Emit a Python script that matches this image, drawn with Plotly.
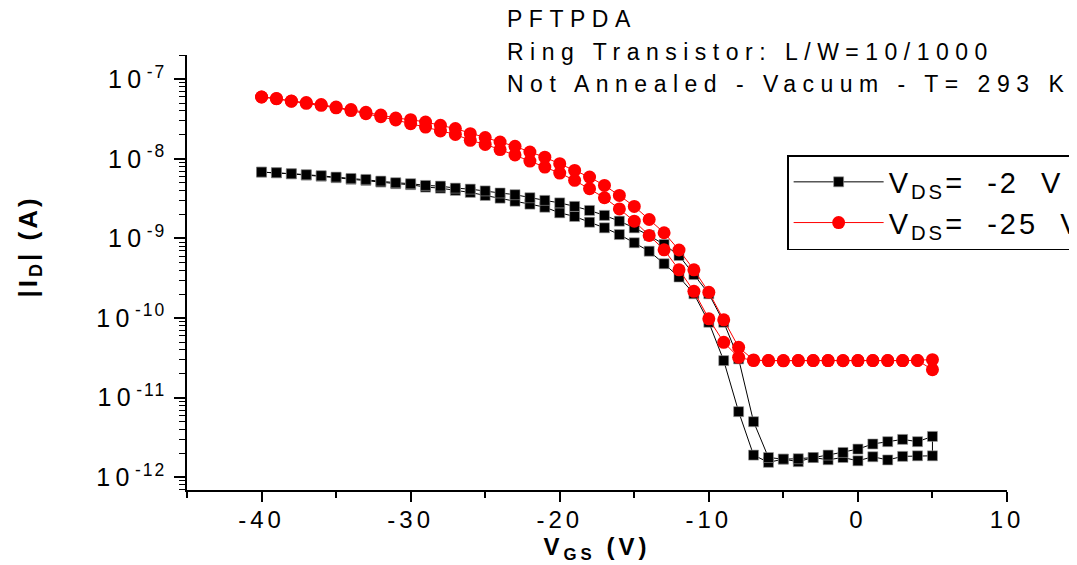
import plotly.graph_objects as go

# Gate voltage sweep (V): forward -40 -> 5, then reverse 5 -> -40
vgs_fwd = [-40, -39, -38, -37, -36, -35, -34, -33, -32, -31, -30, -29, -28, -27, -26, -25,
           -24, -23, -22, -21, -20, -19, -18, -17, -16, -15, -14, -13, -12, -11, -10, -9,
           -8, -7, -6, -5, -4, -3, -2, -1, 0, 1, 2, 3, 4, 5]
vgs_rev = [5, 4, 3, 2, 1, 0, -1, -2, -3, -4, -5, -6, -7, -8, -9, -10, -11, -12, -13, -14,
           -15, -16, -17, -18, -19, -20, -21, -22, -23, -24, -25, -26, -27, -28, -29, -30,
           -31, -32, -33, -34, -35, -36, -37, -38, -39, -40]

# |I_D| (A), V_DS = -2 V
id2_fwd = [6.82e-9, 6.68e-9, 6.48e-9, 6.25e-9, 6.06e-9, 5.80e-9, 5.55e-9, 5.37e-9, 5.11e-9,
           4.88e-9, 4.74e-9, 4.42e-9, 4.29e-9, 4.02e-9, 3.79e-9, 3.47e-9, 3.21e-9, 2.94e-9,
           2.70e-9, 2.47e-9, 2.10e-9, 1.89e-9, 1.60e-9, 1.36e-9, 1.12e-9, 8.83e-10, 6.92e-10,
           4.81e-10, 3.28e-10, 2.02e-10, 8.86e-11, 2.92e-11, 6.67e-12, 1.90e-12, 1.54e-12,
           1.69e-12, 1.57e-12, 1.77e-12, 1.66e-12, 1.77e-12, 1.61e-12, 1.81e-12, 1.65e-12,
           1.83e-12, 1.86e-12, 1.86e-12]
id2_rev = [3.26e-12, 2.80e-12, 2.99e-12, 2.80e-12, 2.62e-12, 2.26e-12, 2.05e-12, 1.90e-12,
           1.77e-12, 1.71e-12, 1.69e-12, 1.77e-12, 4.99e-12, 3.07e-11, 8.86e-11, 2.02e-10,
           3.52e-10, 6.11e-10, 8.40e-10, 1.09e-9, 1.36e-9, 1.65e-9, 1.95e-9, 2.25e-9, 2.53e-9,
           2.80e-9, 3.01e-9, 3.25e-9, 3.55e-9, 3.73e-9, 3.96e-9, 4.17e-9, 4.29e-9, 4.55e-9,
           4.64e-9, 4.88e-9, 5.02e-9, 5.26e-9, 5.52e-9, 5.68e-9, 5.90e-9, 6.15e-9, 6.33e-9,
           6.51e-9, 6.71e-9, 6.82e-9]

# |I_D| (A), V_DS = -25 V
id25_fwd = [5.99e-8, 5.70e-8, 5.30e-8, 4.99e-8, 4.71e-8, 4.38e-8, 4.04e-8, 3.70e-8, 3.39e-8,
            3.08e-8, 2.77e-8, 2.51e-8, 2.24e-8, 2.03e-8, 1.71e-8, 1.52e-8, 1.31e-8, 1.12e-8,
            9.38e-9, 7.88e-9, 6.63e-9, 5.37e-9, 4.22e-9, 3.25e-9, 2.35e-9, 1.65e-9, 1.09e-9,
            7.21e-10, 4.04e-10, 2.17e-10, 9.77e-11, 4.96e-11, 3.21e-11, 2.92e-11, 2.92e-11,
            2.90e-11, 2.92e-11, 2.93e-11, 2.92e-11, 2.91e-11, 2.92e-11, 2.93e-11, 2.92e-11,
            2.92e-11, 2.93e-11, 2.25e-11]
id25_rev = [3.00e-11, 2.93e-11, 2.92e-11, 2.93e-11, 2.92e-11, 2.92e-11, 2.93e-11, 2.92e-11,
            2.92e-11, 2.93e-11, 2.92e-11, 2.92e-11, 2.98e-11, 4.29e-11, 9.50e-11, 2.11e-10,
            4.04e-10, 7.16e-10, 1.18e-9, 1.73e-9, 2.53e-9, 3.47e-9, 4.64e-9, 5.90e-9, 7.16e-9,
            8.70e-9, 1.05e-8, 1.22e-8, 1.44e-8, 1.63e-8, 1.85e-8, 2.07e-8, 2.40e-8, 2.64e-8,
            2.90e-8, 3.11e-8, 3.26e-8, 3.55e-8, 3.85e-8, 4.16e-8, 4.48e-8, 4.81e-8, 5.09e-8,
            5.33e-8, 5.72e-8, 5.99e-8]

series_names = ["V<sub>DS</sub>=  -2  V", "V<sub>DS</sub>=  -25  V"]
x_ticks = [-40, -30, -20, -10, 0, 10]
x_ticktext = ["-40", "-30", "-20", "-10", "0", "10"]
y_ticks = [1e-12, 1e-11, 1e-10, 1e-9, 1e-8, 1e-7]
y_exponents = ["-12", "-11", "-10", "-9", "-8", "-7"]
header_lines = ["PFTPDA", "Ring Transistor: L/W=10/1000", "Not Annealed - Vacuum - T= 293 K"]
x_title = "V<sub>GS</sub> (V)"
y_title = "|I<sub>D</sub>| (A)"

FONT = "Arial, Liberation Sans, sans-serif"
W, H = 1077, 565
OFF = 8  # page body margin: the figure is drawn 8 px in from the window corner
# target positions of the plot frame, in window pixels
L_SCR, R_SCR, T_SCR, B_SCR = 186.5, 1007.0, 55.0, 490.0
L_PX, R_PX, T_PX, B_PX = L_SCR - OFF, R_SCR - OFF, T_SCR - OFF, B_SCR - OFF


def sp(txt, ls, size):
    return '<span style="letter-spacing:%spx;font-size:%spx">%s</span>' % (ls, size, txt)


def px2paper_x(px):
    return (px - OFF - L_PX) / (R_PX - L_PX)


def px2paper_y(py):
    return (B_PX - (py - OFF)) / (B_PX - T_PX)


fig = go.Figure()
fig.add_trace(go.Scatter(
    x=vgs_fwd + vgs_rev, y=id2_fwd + id2_rev, mode="lines+markers",
    name=sp(series_names[0], 3, 29),
    line=dict(color="black", width=1),
    marker=dict(symbol="square", size=10, color="black",
                line=dict(color="#9a9a9a", width=0.6)),
))
fig.add_trace(go.Scatter(
    x=vgs_fwd + vgs_rev, y=id25_fwd + id25_rev, mode="lines+markers",
    name=sp(series_names[1], 3, 29),
    line=dict(color="red", width=1),
    marker=dict(symbol="circle", size=13, color="red"),
))

annotations = []
for i, line in enumerate(header_lines):
    annotations.append(dict(
        text=sp(line, 6.5, 23), xref="paper", yref="paper",
        x=px2paper_x(505), y=px2paper_y(19 + 32.5 * i),
        xanchor="left", yanchor="middle", showarrow=False,
        font=dict(family=FONT, size=23, color="black"),
    ))
# y axis title (placed as rotated text left of the tick labels)
annotations.append(dict(
    text="<b>" + sp(y_title, 3, 26) + "</b>", xref="paper", yref="paper",
    x=px2paper_x(28), y=px2paper_y(247), xanchor="center", yanchor="middle",
    textangle=-90, showarrow=False,
    font=dict(family=FONT, size=26, color="black"),
))

fig.update_layout(
    width=W, height=H,
    margin=dict(l=L_PX, r=W - R_PX, t=T_PX, b=H - B_PX, pad=0, autoexpand=False),
    paper_bgcolor="white", plot_bgcolor="white",
    font=dict(family=FONT, color="black"),
    showlegend=True,
    legend=dict(
        x=px2paper_x(787), y=px2paper_y(155), xanchor="left", yanchor="top",
        bordercolor="black", borderwidth=1.5, bgcolor="white",
        font=dict(family=FONT, size=29, color="black"),
        itemwidth=90,
    ),
    annotations=annotations,
)

fig.update_xaxes(
    range=[-45, 10], showgrid=False, zeroline=False, automargin=False,
    showline=True, linecolor="black", linewidth=1.5,
    ticks="outside", ticklen=10, tickwidth=1.5, tickcolor="black",
    tickvals=x_ticks, ticktext=[sp(t, 4, 24) for t in x_ticktext],
    tickfont=dict(family=FONT, size=24, color="black"),
    ticklabelstandoff=-3,
    minor=dict(ticks="outside", ticklen=6, tickwidth=1.5, tickcolor="black", dtick=5),
    title=dict(text="<b>" + sp(x_title, 4, 24) + "</b>",
               font=dict(family=FONT, size=24, color="black"), standoff=0),
)
fig.update_yaxes(
    type="log", range=[-12.16, -6.695], showgrid=False, zeroline=False, automargin=False,
    showline=True, linecolor="black", linewidth=1.5,
    ticks="outside", ticklen=11, tickwidth=1.5, tickcolor="black",
    tickvals=y_ticks,
    ticktext=[sp("10", 5.5, 25) + "<sup>" + sp(e, 2, 17.5) + "</sup>" for e in y_exponents],
    tickfont=dict(family=FONT, size=25, color="black"),
    ticklabelstandoff=3,
    minor=dict(ticks="outside", ticklen=6, tickwidth=1, tickcolor="black", dtick="D1"),
)

fig.write_html("out.html")
